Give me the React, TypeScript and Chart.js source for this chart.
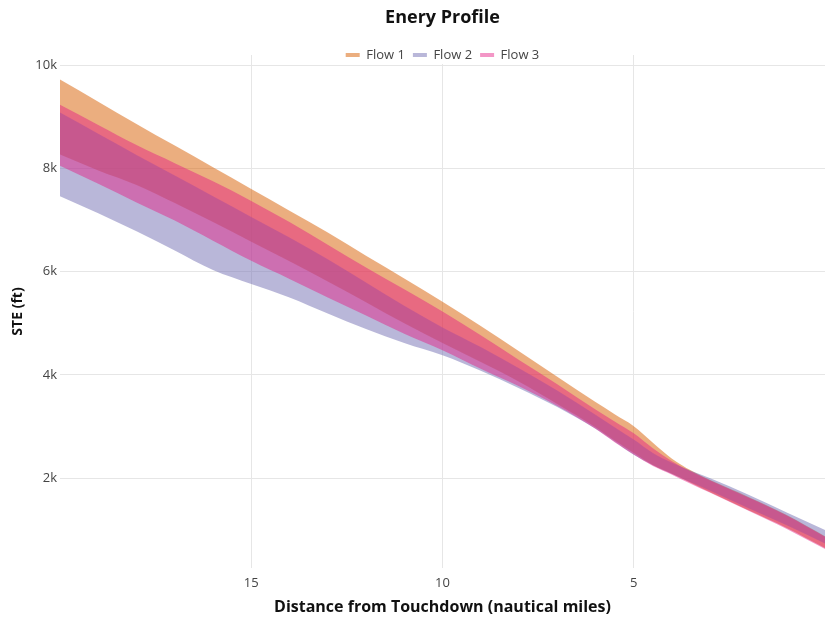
import React, { useEffect, useRef } from 'react';
import { Chart, registerables } from 'chart.js';

Chart.register(...registerables);

// Distance from touchdown (nautical miles)
const distance = [20, 19, 18, 17, 16, 15, 14, 13, 12, 11, 10, 9, 8, 7, 6, 5.5, 5, 4.5, 4, 3.5, 3, 2, 1, 0];

// Band limits for each flow (STE, ft)
const flow1Upper = [9720, 9290, 8860, 8440, 8020, 7600, 7180, 6760, 6310, 5870, 5420, 4950, 4460, 3965, 3475, 3240, 3010, 2690, 2380, 2150, 1965, 1640, 1290, 880];
const flow1Lower = [8270, 7960, 7680, 7330, 6960, 6580, 6200, 5810, 5410, 5000, 4620, 4250, 3870, 3440, 2990, 2730, 2490, 2260, 2090, 1910, 1730, 1380, 1040, 650];
const flow2Upper = [9080, 8670, 8260, 7860, 7460, 7060, 6660, 6240, 5790, 5340, 4920, 4540, 4130, 3700, 3230, 2990, 2750, 2490, 2300, 2140, 2000, 1680, 1340, 1000];
const flow2Lower = [7460, 7130, 6780, 6410, 6030, 5760, 5500, 5190, 4890, 4620, 4380, 4080, 3745, 3380, 2960, 2710, 2455, 2255, 2085, 1920, 1760, 1420, 1090, 740];
const flow3Upper = [9230, 8840, 8450, 8100, 7750, 7370, 6960, 6520, 6080, 5660, 5230, 4770, 4290, 3820, 3330, 3100, 2870, 2580, 2330, 2130, 1960, 1630, 1280, 870];
const flow3Lower = [8050, 7700, 7340, 6990, 6600, 6210, 5860, 5500, 5150, 4800, 4480, 4120, 3780, 3400, 2960, 2700, 2460, 2240, 2070, 1890, 1720, 1370, 1020, 630];

const seriesNames = ['Flow 1', 'Flow 2', 'Flow 3'];
const seriesColors = ['rgba(216, 94, 0, 0.5)', 'rgba(115, 111, 179, 0.5)', 'rgba(228, 27, 130, 0.46)'];

const xTicks = [15, 10, 5];
const yTicks = [2000, 4000, 6000, 8000, 10000];

const chartTitle = 'Enery Profile';
const xTitle = 'Distance from Touchdown (nautical miles)';
const yTitle = 'STE (ft)';

const FONT = '"Open Sans", "DejaVu Sans", Arial, sans-serif';

function points(values: number[]) {
  return distance.map((x, i) => ({ x, y: values[i] }));
}

function band(name: string, color: string, lower: number[], upper: number[]) {
  const common = {
    borderColor: 'rgba(0,0,0,0)',
    borderWidth: 0,
    pointRadius: 0,
    cubicInterpolationMode: 'monotone',
  };
  return [
    { ...common, label: '', data: points(lower), backgroundColor: 'rgba(0,0,0,0)', fill: false },
    { ...common, label: name, data: points(upper), backgroundColor: color, fill: '-1' },
  ];
}

const headerPlugin = {
  id: 'headerPlacement',
  beforeLayout(chart: any) {
    const lg = chart.legend;
    if (lg && !lg.__patched) {
      lg.__patched = true;
      lg._layers = () => [
        {
          z: 1,
          draw: (area: any) => {
            const boxes = lg.legendHitBoxes || [];
            if (boxes.length) {
              const ctx = chart.ctx;
              let l = Infinity, r = -Infinity;
              boxes.forEach((b: any) => {
                l = Math.min(l, b.left);
                r = Math.max(r, b.left + b.width);
              });
              ctx.save();
              ctx.fillStyle = '#ffffff';
              ctx.fillRect(l - 4, 45, r - l + 8, 19);
              ctx.restore();
            }
            lg.draw(area);
          },
        },
      ];
    }
  },
  afterLayout(chart: any) {
    const area = chart.chartArea;
    const t = chart.titleBlock;
    if (t) {
      const h = t.height;
      t.left = area.left;
      t.right = area.right;
      t.top = 18 - 10.8;
      t.bottom = t.top + h;
    }
    const lg = chart.legend;
    if (lg) {
      const h = lg.height;
      lg.left = area.left;
      lg.right = area.right;
      lg.top = 55 - 8 - 6.5;
      lg.bottom = lg.top + h;
    }
  },
};

export default function App() {
  const canvasRef = useRef<HTMLCanvasElement | null>(null);

  useEffect(() => {
    document.body.style.margin = '0';
    const canvas = canvasRef.current;
    if (!canvas) return;

    const datasets = [
      ...band(seriesNames[2], seriesColors[2], flow3Lower, flow3Upper),
      ...band(seriesNames[1], seriesColors[1], flow2Lower, flow2Upper),
      ...band(seriesNames[0], seriesColors[0], flow1Lower, flow1Upper),
    ];

    const chart = new Chart(canvas, {
      type: 'line',
      data: { datasets },
      plugins: [headerPlugin],
      options: {
        animation: false,
        responsive: false,
        maintainAspectRatio: false,
        layout: { padding: { top: 2.4, left: 0, right: 0, bottom: 0 } },
        elements: { line: { borderWidth: 0 } },
        plugins: {
          title: {
            display: true,
            text: chartTitle,
            color: '#111',
            font: { family: FONT, size: 18, weight: 'bold' },
            padding: { top: 0, bottom: 0 },
          },
          legend: {
            display: true,
            position: 'top',
            labels: {
              color: '#444',
              font: { family: FONT, size: 13 },
              boxWidth: 14,
              boxHeight: 4,
              padding: 8,
              filter: (item: any) => item.text !== '',
              sort: (a: any, b: any) => a.text.localeCompare(b.text),
            },
          },
          tooltip: { enabled: false },
        },
        scales: {
          x: {
            type: 'linear',
            min: 0,
            max: 20,
            reverse: true,
            afterBuildTicks: (scale: any) => {
              scale.ticks = xTicks.map((v) => ({ value: v }));
            },
            afterFit: (scale: any) => {
              scale.height = 50;
            },
            grid: { color: '#e6e6e6', drawTicks: false },
            border: { display: false },
            ticks: {
              color: '#444',
              font: { family: FONT, size: 13 },
              padding: 7,
              maxRotation: 0,
              autoSkip: false,
              callback: (v: any) => String(v),
            },
            title: {
              display: true,
              text: xTitle,
              color: '#111',
              font: { family: FONT, size: 16, weight: 'bold' },
              padding: { top: 0, bottom: 1.4 },
            },
          },
          y: {
            type: 'linear',
            min: 264,
            max: 10194,
            afterBuildTicks: (scale: any) => {
              scale.ticks = yTicks.map((v) => ({ value: v }));
            },
            afterFit: (scale: any) => {
              scale.width = 60;
            },
            grid: { color: '#e6e6e6', drawTicks: false },
            border: { display: false },
            ticks: {
              color: '#444',
              font: { family: FONT, size: 13 },
              padding: 3,
              callback: (v: any) => `${Number(v) / 1000}k`,
            },
            title: {
              display: true,
              text: yTitle,
              color: '#111',
              font: { family: FONT, size: 14, weight: 'bold' },
              padding: { top: 10, bottom: 0 },
            },
          },
        },
      },
    } as any);

    return () => {
      chart.destroy();
    };
  }, []);

  return (
    <div style={{ width: 825, height: 618 }}>
      <canvas ref={canvasRef} width={825} height={618} style={{ display: 'block' }} />
    </div>
  );
}
